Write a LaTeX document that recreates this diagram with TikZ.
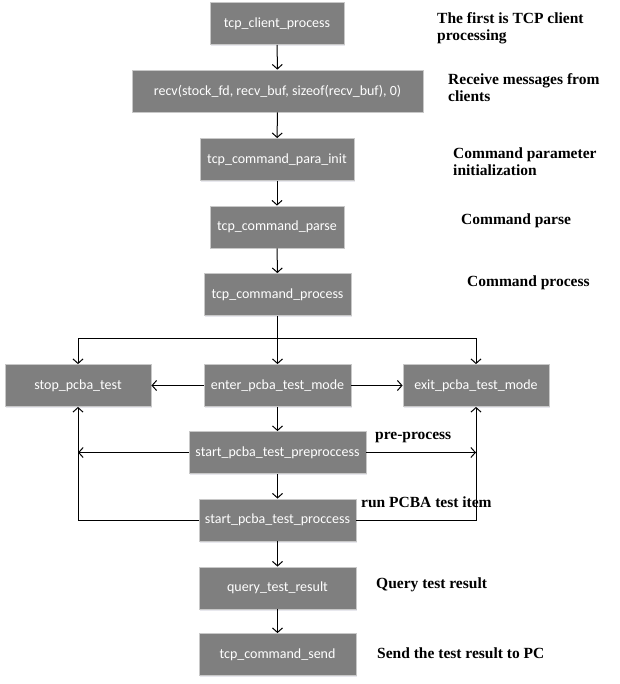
\documentclass[tikz,border=0pt]{standalone}
\usepackage{fontspec}
\setmainfont{Liberation Serif}
\newfontfamily\boxfont{Carlito}
\usetikzlibrary{arrows.meta,shadows}
\definecolor{boxgray}{HTML}{7F7F7F}
\definecolor{boxedge}{HTML}{C8C8C8}
\tikzset{
  fbox/.style={rectangle, fill=boxgray, draw=boxedge, line width=0.8pt,
    minimum height=42pt, inner sep=0pt, text=white,
    font=\boxfont\fontsize{14}{16}\selectfont,
    drop shadow={shadow xshift=1pt, shadow yshift=-1.5pt, fill=blue!25!black!15, opacity=0.6}},
  note/.style={anchor=west, inner sep=0pt, align=left,
    font=\bfseries\fontsize{15.5}{17}\selectfont},
  arr/.style={line width=1pt, -{Straight Barb[length=4.5pt,width=10pt,line width=1pt]}},
  ln/.style={line width=1pt}
}
\begin{document}
\begin{tikzpicture}[x=1pt,y=-1pt]
\useasboundingbox (0,0) rectangle (619,684);
\node[fbox, minimum width=134pt] (client) at (277,23.5) {tcp\_client\_process};
\node[fbox, minimum width=291pt] (recv) at (277.5,91) {recv(stock\_fd, recv\_buf, sizeof(recv\_buf), 0)};
\node[fbox, minimum width=154pt] (init) at (277,159.5) {tcp\_command\_para\_init};
\node[fbox, minimum width=134pt] (parse) at (277,227) {tcp\_command\_parse};
\node[fbox, minimum width=147pt] (process) at (277.5,294.5) {tcp\_command\_process};
\node[fbox, minimum width=146pt] (stop) at (78,385.5) {stop\_pcba\_test};
\node[fbox, minimum width=147pt] (enter) at (277.5,385.5) {enter\_pcba\_test\_mode};
\node[fbox, minimum width=146pt] (exit) at (476,385.5) {exit\_pcba\_test\_mode};
\node[fbox, minimum width=177pt] (pre) at (277.5,452.5) {start\_pcba\_test\_preproccess};
\node[fbox, minimum width=157pt] (proc) at (277.5,520) {start\_pcba\_test\_proccess};
\node[fbox, minimum width=157pt] (query) at (277.5,588) {query\_test\_result};
\node[fbox, minimum width=157pt] (send) at (277.5,654.5) {tcp\_command\_send};

\coordinate (J) at (277.5,338);

\draw[arr] (client) -- (recv);
\draw[arr] (recv) -- (init);
\draw[arr] (init) -- (parse);
\draw[arr] (parse) -- (process);
\draw[arr] (process.south) -- (enter.north);
\draw[arr] (J) -| (stop.north);
\draw[arr] (J) -| (exit.north);
\draw[arr] (enter) -- (stop);
\draw[arr] (enter) -- (exit);
\draw[arr] (enter) -- (pre);
\draw[arr] (pre.west) -- (pre.west -| stop.south);
\draw[arr] (pre.east) -- (pre.east -| exit.south);
\draw[arr] (pre) -- (proc);
\draw[arr] (proc.west) -| (stop.south);
\draw[arr] (proc.east) -| (exit.south);
\draw[arr] (proc) -- (query);
\draw[arr] (query) -- (send);

\node[note] (n1) at (437,28.5) {The first is TCP client\\processing};
\node[note] (n2) at (448,87.5) {Receive messages from\\clients};
\node[note] (n3) at (453,161.5) {Command parameter\\initialization};
\node[note] (n4) at (461,221) {Command parse};
\node[note] (n5) at (467,283) {Command process};
\node[note] (n6) at (375,437) {pre-process};
\node[note] (n7) at (361,502) {run PCBA test item};
\node[note] (n8) at (376,585) {Query test result};
\node[note] (n9) at (377,653) {Send the test result to PC};
\end{tikzpicture}
\end{document}
